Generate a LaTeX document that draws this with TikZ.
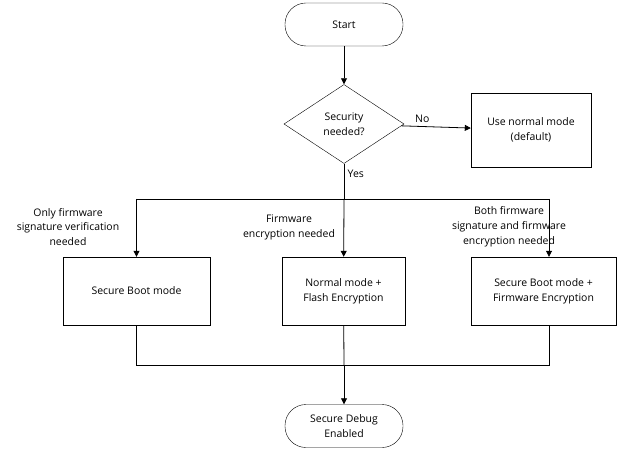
\documentclass[tikz,border=0pt]{standalone}
\usepackage{fontspec}
\setmainfont{Open Sans}
\usetikzlibrary{shapes.geometric,positioning,arrows.meta}
\begin{document}
\begin{tikzpicture}[x=1bp,y=-1bp,font=\fontsize{10.5}{15}\selectfont,
  term/.style={draw, rounded corners=21bp, minimum width=118bp, minimum height=43bp, align=center},
  box/.style={draw, minimum height=68bp, align=center},
  dec/.style={draw, diamond, aspect=1.5, minimum width=120bp, minimum height=79bp, inner sep=0pt, align=center},
  lbl/.style={align=center, inner sep=0pt},
  arr/.style={-{Triangle[length=6bp,width=6bp]}, thick},
  ln/.style={thick}]
\useasboundingbox (0,0) rectangle (622,449);
\node[term] (start) at (344,24.5) {Start};
\node[dec] (sec) at (344,124) {Security\\needed?};
\node[box, minimum width=120bp, minimum height=74bp] (normal) at (531,130) {Use normal mode\\(default)};
\node[box, minimum width=147bp] (sb) at (136.5,291) {Secure Boot mode};
\node[box, minimum width=123bp] (nf) at (343.5,291) {Normal mode +\\Flash Encryption};
\node[box, minimum width=145bp] (sf) at (543.5,291) {Secure Boot mode +\\Firmware Encryption};
\node[term] (end) at (344,426) {Secure Debug\\Enabled};
\node[lbl] (only) at (68,227) {Only firmware\\signature verification\\needed};
\node[lbl] (fwenc) at (289,227) {Firmware\\encryption needed};
\node[lbl] (both) at (509,227) {Both firmware\\signature and firmware\\encryption needed};
\coordinate (split) at (344,199);
\coordinate (sl) at (136.5,199);
\coordinate (sr) at (549,199);
\coordinate (join) at (344,365);
\coordinate (jl) at (136.5,365);
\coordinate (jr) at (549,365);
\draw[arr] (start) -- (sec);
\draw[arr] (sec) -- node[above, pos=0.3] {No} (normal);
\draw[ln] (sec) -- node[right, pos=0.3] {Yes} (split);
\draw[ln] (sl) -- (sr);
\draw[arr] (sl) -- (sl |- sb.north);
\draw[arr] (split) -- (nf);
\draw[arr] (sr) -- (sr |- sf.north);
\draw[ln] (sb) -- (jl) -- (jr) -- (jr |- sf.south);
\draw[ln] (nf) -- (join);
\draw[arr] (join) -- (end);
\end{tikzpicture}
\end{document}
